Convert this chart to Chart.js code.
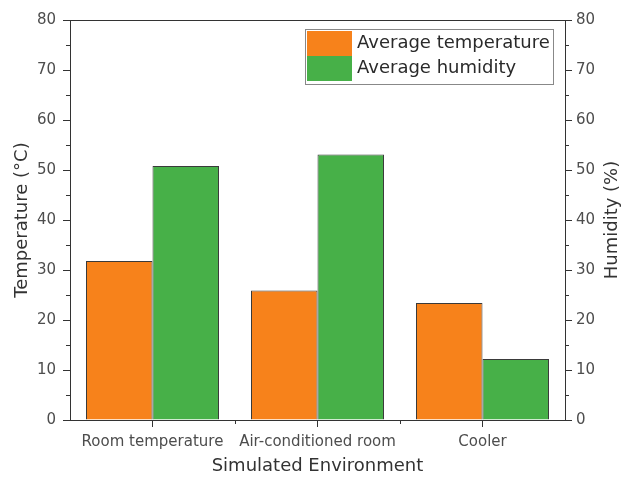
<!DOCTYPE html>
<html>
<head>
<meta charset="utf-8">
<script src="https://cdn.jsdelivr.net/npm/chart.js@4/dist/chart.umd.min.js"></script>
<style>
  html, body { margin: 0; padding: 0; background: #fff; }
  #wrap { width: 622px; height: 481px; }
</style>
</head>
<body>
<div id="wrap"><canvas id="c" width="622" height="481"></canvas></div>
<script>
// Environments tested
const categories = ['Room temperature', 'Air-conditioned room', 'Cooler'];
// Mean temperature per environment (°C)
const avgTemperature = [31.8, 25.9, 23.4];
// Mean relative humidity per environment (%)
const avgHumidity = [50.8, 53.1, 12.2];
// Shared value ticks for both vertical axes
const yTicks = [0, 10, 20, 30, 40, 50, 60, 70, 80];
const rightTitle = 'Humidity (%)';

const FONT = "'DejaVu Sans', sans-serif";
const AXIS = '#333333';
const TICKTEXT = '#4d4d4d';

// Frame, minor ticks, right-hand title and the boxed legend
const decorations = {
  id: 'decorations',
  afterDraw(chart) {
    const {ctx, chartArea: a, scales} = chart;
    ctx.save();
    ctx.strokeStyle = AXIS;
    ctx.lineWidth = 1;
    // top border
    ctx.beginPath();
    ctx.moveTo(a.left, a.top + 0.5);
    ctx.lineTo(a.right, a.top + 0.5);
    ctx.stroke();
    // minor ticks on both value axes
    const y = scales.y, y1 = scales.y1;
    ctx.beginPath();
    for (let i = 0; i < yTicks.length - 1; i++) {
      const v = (yTicks[i] + yTicks[i + 1]) / 2;
      const py = Math.round(y.getPixelForValue(v)) + 0.5;
      ctx.moveTo(a.left - 4, py); ctx.lineTo(a.left, py);
      const py1 = Math.round(y1.getPixelForValue(v)) + 0.5;
      ctx.moveTo(a.right, py1); ctx.lineTo(a.right + 4, py1);
    }
    // minor ticks between categories
    const x = scales.x;
    for (let i = 0; i < categories.length - 1; i++) {
      const px = Math.round((x.getPixelForValue(i) + x.getPixelForValue(i + 1)) / 2) + 0.5;
      ctx.moveTo(px, a.bottom); ctx.lineTo(px, a.bottom + 4);
    }
    ctx.stroke();

    // right axis title, reading bottom to top
    ctx.save();
    ctx.translate(612, (a.top + a.bottom) / 2);
    ctx.rotate(-Math.PI / 2);
    ctx.fillStyle = '#333333';
    ctx.font = "18px " + FONT;
    ctx.textAlign = 'center';
    ctx.textBaseline = 'middle';
    ctx.fillText(rightTitle, 0, 0);
    ctx.restore();

    // legend
    const lx = 305, ly = 29, lw = 248, lh = 55;
    ctx.fillStyle = '#ffffff';
    ctx.fillRect(lx, ly, lw, lh);
    ctx.strokeStyle = '#888888';
    ctx.strokeRect(lx + 0.5, ly + 0.5, lw, lh);
    const rowH = 25;
    chart.data.datasets.forEach((ds, i) => {
      const ry = ly + 2 + i * rowH;
      ctx.fillStyle = ds.backgroundColor;
      ctx.fillRect(lx + 2, ry, 45, rowH);
      ctx.fillStyle = '#2a2a2a';
      ctx.font = "18px " + FONT;
      ctx.textBaseline = 'middle';
      ctx.textAlign = 'left';
      ctx.fillText(ds.label, lx + 52, ry + rowH / 2);
    });
    ctx.restore();
  }
};

new Chart(document.getElementById('c'), {
  type: 'bar',
  data: {
    labels: categories,
    datasets: [
      {
        label: 'Average temperature',
        data: avgTemperature,
        yAxisID: 'y',
        backgroundColor: '#F7821B',
        borderColor: '#3a3a3a',
        borderWidth: 1,
        barPercentage: 1,
        categoryPercentage: 0.806
      },
      {
        label: 'Average humidity',
        data: avgHumidity,
        yAxisID: 'y1',
        backgroundColor: '#47B048',
        borderColor: '#3a3a3a',
        borderWidth: 1,
        barPercentage: 1,
        categoryPercentage: 0.806
      }
    ]
  },
  options: {
    responsive: false,
    animation: false,
    layout: { padding: { top: 20, left: 0, right: 0, bottom: 0 } },
    plugins: {
      legend: { display: false },
      tooltip: { enabled: false }
    },
    scales: {
      x: {
        afterFit: s => { s.height = 61; },
        grid: { display: true, drawOnChartArea: false, drawTicks: true, tickLength: 7, offset: false, color: AXIS },
        border: { display: true, color: AXIS, width: 1 },
        ticks: { color: TICKTEXT, font: { family: FONT, size: 15 }, padding: 6, maxRotation: 0, autoSkip: false },
        title: { display: true, text: 'Simulated Environment', color: '#333333', font: { family: FONT, size: 18 }, padding: { top: 0, bottom: 4 } }
      },
      y: {
        position: 'left',
        min: 0, max: 80,
        afterFit: s => { s.width = 70; },
        afterBuildTicks: s => { s.ticks = yTicks.map(v => ({ value: v })); },
        grid: { display: true, drawOnChartArea: false, drawTicks: true, tickLength: 7, color: AXIS },
        border: { display: true, color: AXIS, width: 1 },
        ticks: { color: TICKTEXT, font: { family: FONT, size: 15 }, padding: 7 },
        title: { display: true, text: 'Temperature (°C)', color: '#333333', font: { family: FONT, size: 18 }, padding: { top: 12, bottom: 0 } }
      },
      y1: {
        position: 'right',
        min: 0, max: 80,
        afterFit: s => { s.width = 57; },
        afterBuildTicks: s => { s.ticks = yTicks.map(v => ({ value: v })); },
        grid: { display: true, drawOnChartArea: false, drawTicks: true, tickLength: 7, color: AXIS },
        border: { display: true, color: AXIS, width: 1 },
        ticks: { color: TICKTEXT, font: { family: FONT, size: 15 }, padding: 4 },
        title: { display: false }
      }
    }
  },
  plugins: [decorations]
});
</script>
</body>
</html>
